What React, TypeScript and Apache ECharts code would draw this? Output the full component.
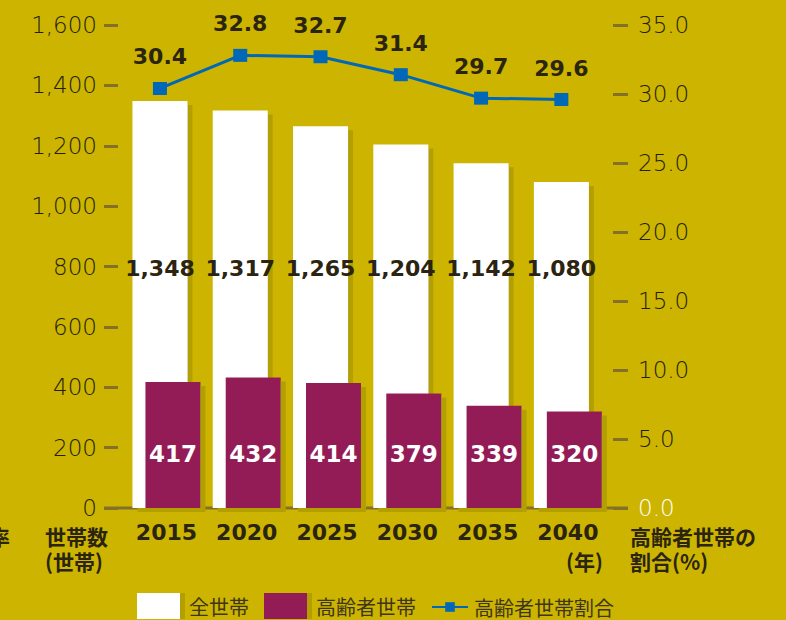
import React, { useEffect, useRef } from "react";
import * as echarts from "echarts";

const years = ["2015", "2020", "2025", "2030", "2035", "2040"];
const allHouseholds = [1348, 1317, 1265, 1204, 1142, 1080];
const elderlyHouseholds = [417, 432, 414, 379, 339, 320];
const elderlyShare = [30.4, 32.8, 32.7, 31.4, 29.7, 29.6];
const leftTicks = { min: 0, max: 1600, interval: 200 };
const rightTicks = { min: 0, max: 35, interval: 5 };

const BG = "#CCB400";
const SHADOW = "#B3A000";
const PURPLE = "#941F56";
const BLUE = "#0068B7";
const TICK = "#85702A";
const DARK = "#2A2410";
const LIGHT_TXT = "#241E0C";

export default function App() {
  const ref = useRef<HTMLDivElement>(null);
  useEffect(() => {
    if (!ref.current) return;
    const chart = echarts.init(ref.current, null, { renderer: "svg" });
    const gridTop = 25;
    const gridBottom = 112;
    const g0Left = 126.3;
    const g0Width = 481.7;
    const g1Left = g0Left - 6.5;
    const shadowStyle = { shadowColor: SHADOW, shadowOffsetX: 5, shadowOffsetY: 4, shadowBlur: 0 };
    const noteStyle = {
      fontFamily: "Noto Sans CJK JP",
      fontWeight: "bold",
      fontSize: 21,
      lineHeight: 21,
      fill: DARK,
    };
    const legendText = {
      fontFamily: "Noto Sans CJK JP",
      fontSize: 20,
      color: "#3E361A",
      padding: [0, 0, 0, 4],
    };
    const option: any = {
      animation: false,
      backgroundColor: BG,
      grid: [
        { left: g0Left, width: g0Width, top: gridTop, bottom: gridBottom },
        { left: g1Left, width: g0Width, top: gridTop, bottom: gridBottom },
      ],
      xAxis: [
        {
          type: "category",
          gridIndex: 0,
          data: years,
          axisLine: { show: false },
          axisTick: { show: false },
          axisLabel: {
            margin: 13,
            fontFamily: "DejaVu Sans",
            fontWeight: "bold",
            fontSize: 22,
            color: DARK,
          },
        },
        {
          type: "category",
          gridIndex: 1,
          data: years,
          show: false,
        },
      ],
      yAxis: [
        {
          type: "value",
          gridIndex: 0,
          position: "left",
          min: leftTicks.min,
          max: leftTicks.max,
          interval: leftTicks.interval,
          offset: g0Left - 118,
          splitLine: { show: false },
          axisLine: { show: false },
          axisTick: { show: true, inside: false, length: 14, lineStyle: { color: TICK, width: 3 } },
          axisLabel: {
            margin: 21,
            fontFamily: "DejaVu Sans",
            fontWeight: 200,
            fontSize: 23,
            color: LIGHT_TXT,
            formatter: (v: number) => v.toLocaleString("en-US"),
          },
        },
        {
          type: "value",
          gridIndex: 1,
          position: "right",
          min: rightTicks.min,
          max: rightTicks.max,
          interval: rightTicks.interval,
          offset: 613 - (g1Left + g0Width),
          splitLine: { show: false },
          axisLine: { show: false },
          axisTick: { show: true, inside: false, length: 15, lineStyle: { color: TICK, width: 3 } },
          axisLabel: {
            margin: 25,
            fontFamily: "DejaVu Sans",
            fontWeight: 200,
            fontSize: 23,
            color: (v: any) => (Number(v) === 0 ? "#FFFFFF" : LIGHT_TXT),
            formatter: (v: number) => v.toFixed(1),
          },
        },
      ],
      legend: [
        {
          left: 137,
          top: 593,
          padding: 0,
          itemWidth: 43,
          itemHeight: 26,
          itemGap: 15,
          icon: "rect",
          textStyle: legendText,
          data: [
            { name: "全世帯", itemStyle: { shadowColor: SHADOW, shadowOffsetX: 5, shadowOffsetY: 0, shadowBlur: 0 } },
            { name: "高齢者世帯", itemStyle: { shadowColor: SHADOW, shadowOffsetX: 5, shadowOffsetY: 0, shadowBlur: 0 } },
          ],
        },
        {
          left: 431,
          top: 597,
          padding: 0,
          itemWidth: 36,
          itemHeight: 12,
          textStyle: { ...legendText, padding: [0, 0, 0, 1] },
          data: [{ name: "高齢者世帯割合" }],
        },
      ],
      series: [
        {
          name: "全世帯",
          type: "bar",
          xAxisIndex: 0,
          yAxisIndex: 0,
          data: allHouseholds,
          barWidth: 55,
          barGap: "-76.4%",
          itemStyle: { color: "#FFFFFF", ...shadowStyle },
          label: {
            show: true,
            position: "insideBottom",
            distance: 229,
            fontFamily: "DejaVu Sans",
            fontWeight: "bold",
            fontSize: 22,
            color: DARK,
            formatter: (p: any) => Number(p.value).toLocaleString("en-US"),
          },
          z: 2,
        },
        {
          name: "高齢者世帯",
          type: "bar",
          xAxisIndex: 0,
          yAxisIndex: 0,
          data: elderlyHouseholds,
          barWidth: 55,
          itemStyle: { color: PURPLE, ...shadowStyle },
          label: {
            show: true,
            position: "insideBottom",
            distance: 43,
            fontFamily: "DejaVu Sans",
            fontWeight: "bold",
            fontSize: 23,
            color: "#FFFFFF",
          },
          z: 3,
        },
        {
          name: "高齢者世帯割合",
          type: "line",
          xAxisIndex: 1,
          yAxisIndex: 1,
          data: elderlyShare,
          symbol: "rect",
          symbolSize: [14, 13],
          lineStyle: { color: BLUE, width: 3 },
          itemStyle: { color: BLUE },
          label: {
            show: true,
            position: "top",
            distance: 14,
            fontFamily: "DejaVu Sans",
            fontWeight: "bold",
            fontSize: 22,
            color: DARK,
            formatter: (p: any) => Number(p.value).toFixed(1),
          },
          z: 5,
        },
      ],
      graphic: [
        {
          type: "rect",
          shape: { x: 104, y: 506.5, width: 524, height: 3 },
          style: { fill: TICK },
          z: 1,
        },
        { type: "text", left: 45, top: 525, style: { ...noteStyle, text: "世帯数" } },
        { type: "text", left: 45, top: 550, style: { ...noteStyle, text: "(世帯)" } },
        { type: "text", left: -11, top: 525, style: { ...noteStyle, text: "率" } },
        { type: "text", left: 566, top: 550, style: { ...noteStyle, text: "(年)" } },
        { type: "text", left: 630, top: 525, style: { ...noteStyle, text: "高齢者世帯の" } },
        { type: "text", left: 630, top: 550, style: { ...noteStyle, text: "割合(%)" } },
      ],
    };
    chart.setOption(option);
    return () => chart.dispose();
  }, []);
  return (
    <div
      ref={ref}
      style={{ width: 786, height: 620, position: "absolute", left: 0, top: 0 }}
    />
  );
}
